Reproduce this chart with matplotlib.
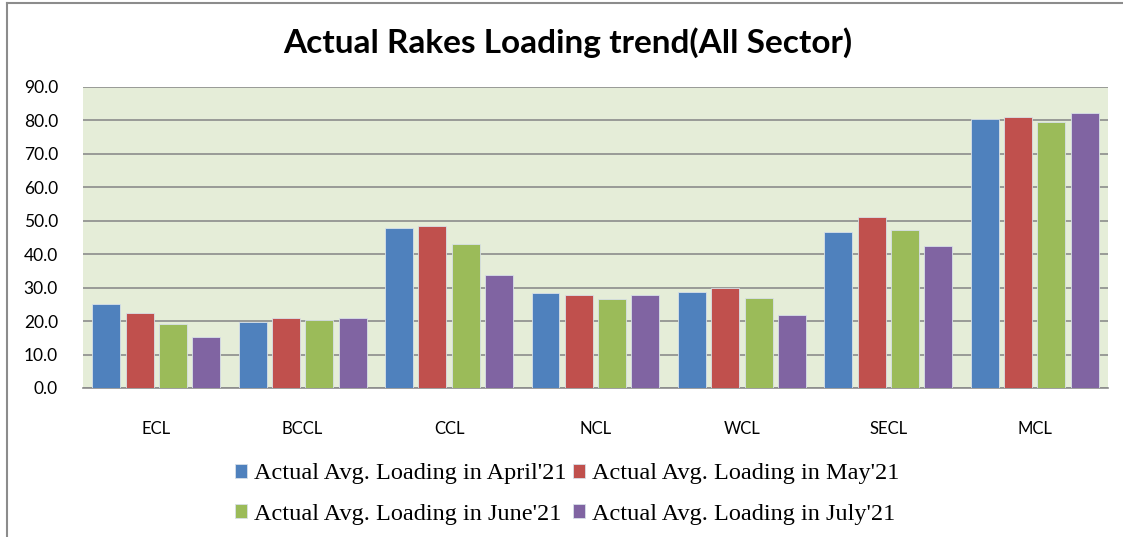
import numpy as np
import matplotlib
matplotlib.use("Agg")
import matplotlib.pyplot as plt
from matplotlib.lines import Line2D

# data
companies = ["ECL", "BCCL", "CCL", "NCL", "WCL", "SECL", "MCL"]
april = [25.0, 19.7, 47.9, 28.4, 28.8, 46.5, 80.5]
may = [22.4, 20.9, 48.5, 27.8, 30.0, 51.2, 80.9]
june = [19.1, 20.3, 43.0, 26.7, 26.9, 47.3, 79.5]
july = [15.3, 21.0, 33.7, 27.9, 21.8, 42.5, 82.3]
series_names = ["Actual Avg. Loading in April'21", "Actual Avg. Loading in May'21",
                "Actual Avg. Loading in June'21", "Actual Avg. Loading in July'21"]
colors = ["#4F81BD", "#C0504D", "#9BBB59", "#8064A2"]
yticks = np.arange(0, 91, 10)

fig = plt.figure(figsize=(11.23, 5.37), dpi=100)
ax = fig.add_axes([0.0739, 0.2775, 0.9127, 0.5605])
ax.set_facecolor("#E5EDD8")

x = np.arange(len(companies))
pitch = 0.2275
bars = []
for i, (vals, name, c) in enumerate(zip([april, may, june, july], series_names, colors)):
    b = ax.bar(x + (i - 1.5) * pitch, vals, width=pitch * 0.84, color=c,
               edgecolor="#d8e0e8", linewidth=0.6, label=name, zorder=3)
    bars.append(b)

ax.set_xlim(-0.5, len(companies) - 0.5)
ax.set_ylim(0, 90)
ax.set_yticks(yticks)
ax.set_yticklabels([f"{v:.1f}" for v in yticks], fontsize=12.5, family="Lato")
ax.set_xticks(x)
ax.set_xticklabels(companies, fontsize=12, family="Lato")
ax.tick_params(axis="y", length=0, pad=18)
ax.tick_params(axis="x", length=0, pad=24)
ax.grid(axis="y", color="#8c8c8c", linewidth=1.2, zorder=1)
for s in ["left", "right", "top"]:
    ax.spines[s].set_visible(False)
ax.spines["bottom"].set_color("#8c8c8c")
ax.spines["bottom"].set_linewidth(1.2)

fig.text(0.506, 0.92, "Actual Rakes Loading trend(All Sector)", ha="center", va="center",
         fontsize=24, fontweight="bold", family="Lato")

# legend filled row by row like the original
order = [0, 2, 1, 3]
fig.legend([bars[k] for k in order], [series_names[k] for k in order],
           loc="center", bbox_to_anchor=(0.505, 0.08), ncol=2, frameon=False,
           prop={"family": "Liberation Serif", "size": 17.5},
           handlelength=0.5, handleheight=0.5, handletextpad=0.25,
           columnspacing=0.3, labelspacing=0.8)

# outer chart frame (left and top edges visible)
fig.add_artist(Line2D([7 / 1123, 7 / 1123], [0, 1 - 3 / 537], color="#8c8c8c", linewidth=1.5))
fig.add_artist(Line2D([7 / 1123, 1], [1 - 3 / 537, 1 - 3 / 537], color="#8c8c8c", linewidth=1.5))

fig.savefig("out.png", dpi=100)
